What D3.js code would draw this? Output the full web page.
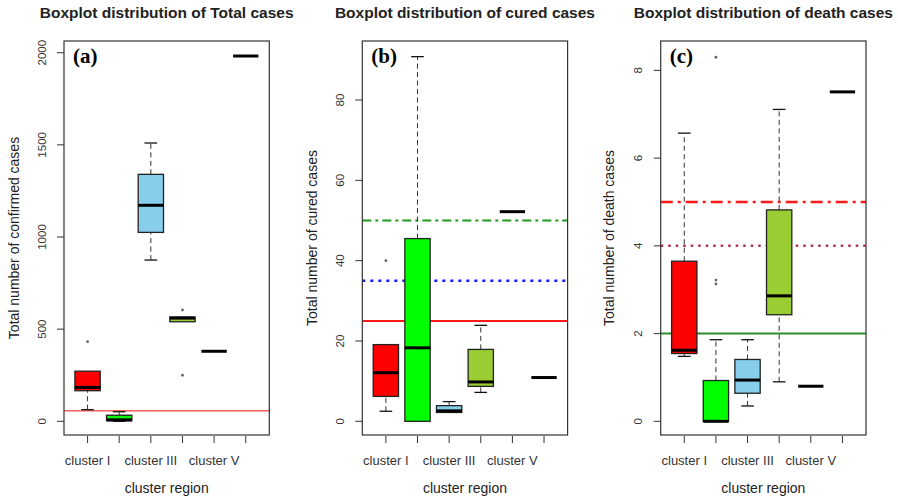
<!DOCTYPE html>
<html>
<head>
<meta charset="utf-8">
<script src="https://cdn.jsdelivr.net/npm/d3@7/dist/d3.min.js"></script>
<style>
  body { margin: 0; background: #fff; }
  svg { display: block; }
</style>
</head>
<body>
<div id="chart"></div>
<script>
(function () {
  'use strict';

  // categories shared by all three panels
  var clusters = ['cluster I', 'cluster II', 'cluster III', 'cluster IV', 'cluster V', 'cluster VI'];
  // R drops overlapping labels, only every other one is printed
  var tickLabels = ['cluster I', '', 'cluster III', '', 'cluster V', ''];
  var boxColors = ['#ff0000', '#00ff00', '#87ceeb', '#9acd32', '#9acd32', '#9acd32'];

  // [lower whisker, q1, median, q3, upper whisker] per cluster
  var totalStats = [
    [63, 166, 184, 272, 272],
    [0, 3, 8, 33, 52],
    [875, 1025, 1172, 1340, 1510],
    [540, 540, 560, 566, 566],
    [380, 380, 380, 380, 380],
    [1982, 1982, 1982, 1982, 1982]
  ];
  var totalOutliers = [[0, 432], [3, 604], [3, 250]];
  var totalTicks = [0, 500, 1000, 1500, 2000];

  var curedStats = [
    [2.5, 6.2, 12.1, 19.1, 19.1],
    [0, 0, 18.3, 45.5, 90.8],
    [2.2, 2.2, 2.6, 3.9, 4.9],
    [7.2, 8.7, 9.8, 17.9, 23.9],
    [52.2, 52.2, 52.2, 52.2, 52.2],
    [10.9, 10.9, 10.9, 10.9, 10.9]
  ];
  var curedOutliers = [[0, 40]];
  var curedTicks = [0, 20, 40, 60, 80];

  var deathStats = [
    [1.48, 1.545, 1.62, 3.65, 6.57],
    [0, 0, 0, 0.93, 1.86],
    [0.35, 0.64, 0.94, 1.41, 1.86],
    [0.9, 2.43, 2.86, 4.82, 7.11],
    [0.8, 0.8, 0.8, 0.8, 0.8],
    [7.51, 7.51, 7.51, 7.51, 7.51]
  ];
  var deathOutliers = [[1, 8.3], [1, 3.22], [1, 3.13]];
  var deathTicks = [0, 2, 4, 6, 8];

  // horizontal reference lines: value, colour, width, dash
  var totalRefs = [[57, '#ff5c5c', 1.5, null]];
  var curedRefs = [
    [50, '#1f9a1f', 2, '9,4,3,4'],
    [35, '#1a1aff', 2.5, '3,5'],
    [25, '#ff1a1a', 2, null]
  ];
  var deathRefs = [
    [5, '#ff1a1a', 2.5, '12,5,3,5'],
    [4, '#b03060', 2.5, '2.5,5'],
    [2, '#2a8f2a', 2, null]
  ];

  var panels = [
    { title: 'Boxplot distribution of Total cases', tag: '(a)', ylab: 'Total number of confirmed cases',
      stats: totalStats, outliers: totalOutliers, ticks: totalTicks, refs: totalRefs,
      domain: [-74.3, 2063.5], left: 64, ylabX: 14, tickX: 46 },
    { title: 'Boxplot distribution of cured cases', tag: '(b)', ylab: 'Total number of cured cases',
      stats: curedStats, outliers: curedOutliers, ticks: curedTicks, refs: curedRefs,
      domain: [-3.41, 94.7], left: 362.3, ylabX: 312, tickX: 344 },
    { title: 'Boxplot distribution of death cases', tag: '(c)', ylab: 'Total number of death cases',
      stats: deathStats, outliers: deathOutliers, ticks: deathTicks, refs: deathRefs,
      domain: [-0.312, 8.67], left: 660.7, ylabX: 609, tickX: 642 }
  ];

  var width = 898, height = 498;
  var top = 41, bottom = 435, plotW = 205.3;
  var sans = 'Liberation Sans, Arial, sans-serif';

  var svg = d3.select('#chart').append('svg')
    .attr('width', width).attr('height', height);

  panels.forEach(function (p) {
    var x = d3.scaleLinear().domain([0.255, 6.745]).range([p.left, p.left + plotW]);
    var y = d3.scaleLinear().domain(p.domain).range([bottom, top]);
    var step = x(2) - x(1);
    var bw = step * 0.8;
    var g = svg.append('g');

    g.append('text')
      .attr('x', p.left + plotW / 2).attr('y', 18)
      .attr('text-anchor', 'middle')
      .attr('font-family', sans).attr('font-weight', 'bold').attr('font-size', '15.5px')
      .attr('fill', '#222')
      .text(p.title);

    // reference lines
    p.refs.forEach(function (r) {
      g.append('line')
        .attr('x1', p.left).attr('x2', p.left + plotW)
        .attr('y1', y(r[0])).attr('y2', y(r[0]))
        .attr('stroke', r[1]).attr('stroke-width', r[2])
        .attr('stroke-dasharray', r[3]);
    });

    function clusterIndex(d) { return p.stats.indexOf(d); }

    // boxes
    var box = g.append('g').selectAll('g')
      .data(p.stats).enter().append('g');

    box.append('line')
      .attr('x1', function (d, i) { return x(i + 1); })
      .attr('x2', function (d, i) { return x(i + 1); })
      .attr('y1', function (d) { return y(d[0]); })
      .attr('y2', function (d) { return y(d[1]); })
      .attr('stroke', '#333').attr('stroke-dasharray', '5,3.5');
    box.append('line')
      .attr('x1', function (d, i) { return x(i + 1); })
      .attr('x2', function (d, i) { return x(i + 1); })
      .attr('y1', function (d) { return y(d[3]); })
      .attr('y2', function (d) { return y(d[4]); })
      .attr('stroke', '#333').attr('stroke-dasharray', '5,3.5');
    [0, 4].forEach(function (k) {
      box.filter(function (d) { return d[k] !== d[k === 0 ? 1 : 3]; })
        .append('line')
        .attr('x1', function (d) { return x(clusterIndex(d) + 1) - bw / 4; })
        .attr('x2', function (d) { return x(clusterIndex(d) + 1) + bw / 4; })
        .attr('y1', function (d) { return y(d[k]); })
        .attr('y2', function (d) { return y(d[k]); })
        .attr('stroke', '#111').attr('stroke-width', 1.3);
    });

    box.append('rect')
      .attr('x', function (d, i) { return x(i + 1) - bw / 2; })
      .attr('width', bw)
      .attr('y', function (d) { return y(d[3]); })
      .attr('height', function (d) { return y(d[1]) - y(d[3]); })
      .attr('fill', function (d, i) { return boxColors[i]; })
      .attr('stroke', '#222').attr('stroke-width', 1.3);
    box.append('line')
      .attr('x1', function (d, i) { return x(i + 1) - bw / 2; })
      .attr('x2', function (d, i) { return x(i + 1) + bw / 2; })
      .attr('y1', function (d) { return y(d[2]); })
      .attr('y2', function (d) { return y(d[2]); })
      .attr('stroke', '#000').attr('stroke-width', 3);

    g.append('g').selectAll('circle')
      .data(p.outliers).enter().append('circle')
      .attr('cx', function (d) { return x(d[0] + 1); })
      .attr('cy', function (d) { return y(d[1]); })
      .attr('r', 1.4)
      .attr('fill', '#666');

    // frame
    g.append('rect')
      .attr('x', p.left).attr('y', top)
      .attr('width', plotW).attr('height', bottom - top)
      .attr('fill', 'none').attr('stroke', '#333').attr('stroke-width', 1.2);

    // y axis
    var yAxis = g.append('g');
    yAxis.selectAll('line').data(p.ticks).enter().append('line')
      .attr('x1', p.left - 7).attr('x2', p.left)
      .attr('y1', function (d) { return y(d); }).attr('y2', function (d) { return y(d); })
      .attr('stroke', '#333');
    yAxis.selectAll('text').data(p.ticks).enter().append('text')
      .attr('transform', function (d) { return 'translate(' + p.tickX + ',' + y(d) + ') rotate(-90)'; })
      .attr('text-anchor', 'middle')
      .attr('font-family', sans).attr('font-size', '11.5px').attr('fill', '#333')
      .text(function (d) { return d; });

    g.append('text')
      .attr('transform', 'translate(' + (p.ylabX + 5) + ',' + ((top + bottom) / 2) + ') rotate(-90)')
      .attr('text-anchor', 'middle')
      .attr('font-family', sans).attr('font-size', '14px').attr('fill', '#222')
      .text(p.ylab);

    // x axis
    var xAxis = g.append('g');
    xAxis.selectAll('line').data(clusters).enter().append('line')
      .attr('x1', function (d, i) { return x(i + 1); })
      .attr('x2', function (d, i) { return x(i + 1); })
      .attr('y1', bottom + 1).attr('y2', bottom + 8)
      .attr('stroke', '#333');
    xAxis.selectAll('text').data(tickLabels).enter().append('text')
      .attr('x', function (d, i) { return x(i + 1); })
      .attr('y', 465)
      .attr('text-anchor', 'middle')
      .attr('font-family', sans).attr('font-size', '13px').attr('fill', '#333')
      .text(function (d) { return d; });

    g.append('text')
      .attr('x', p.left + plotW / 2).attr('y', 493)
      .attr('text-anchor', 'middle')
      .attr('font-family', sans).attr('font-size', '14px').attr('fill', '#222')
      .text('cluster region');

    g.append('text')
      .attr('x', p.left + 9).attr('y', 63)
      .attr('font-family', 'Liberation Serif, Times New Roman, serif')
      .attr('font-weight', 'bold').attr('font-size', '21px').attr('fill', '#000')
      .text(p.tag);
  });
})();
</script>
</body>
</html>
